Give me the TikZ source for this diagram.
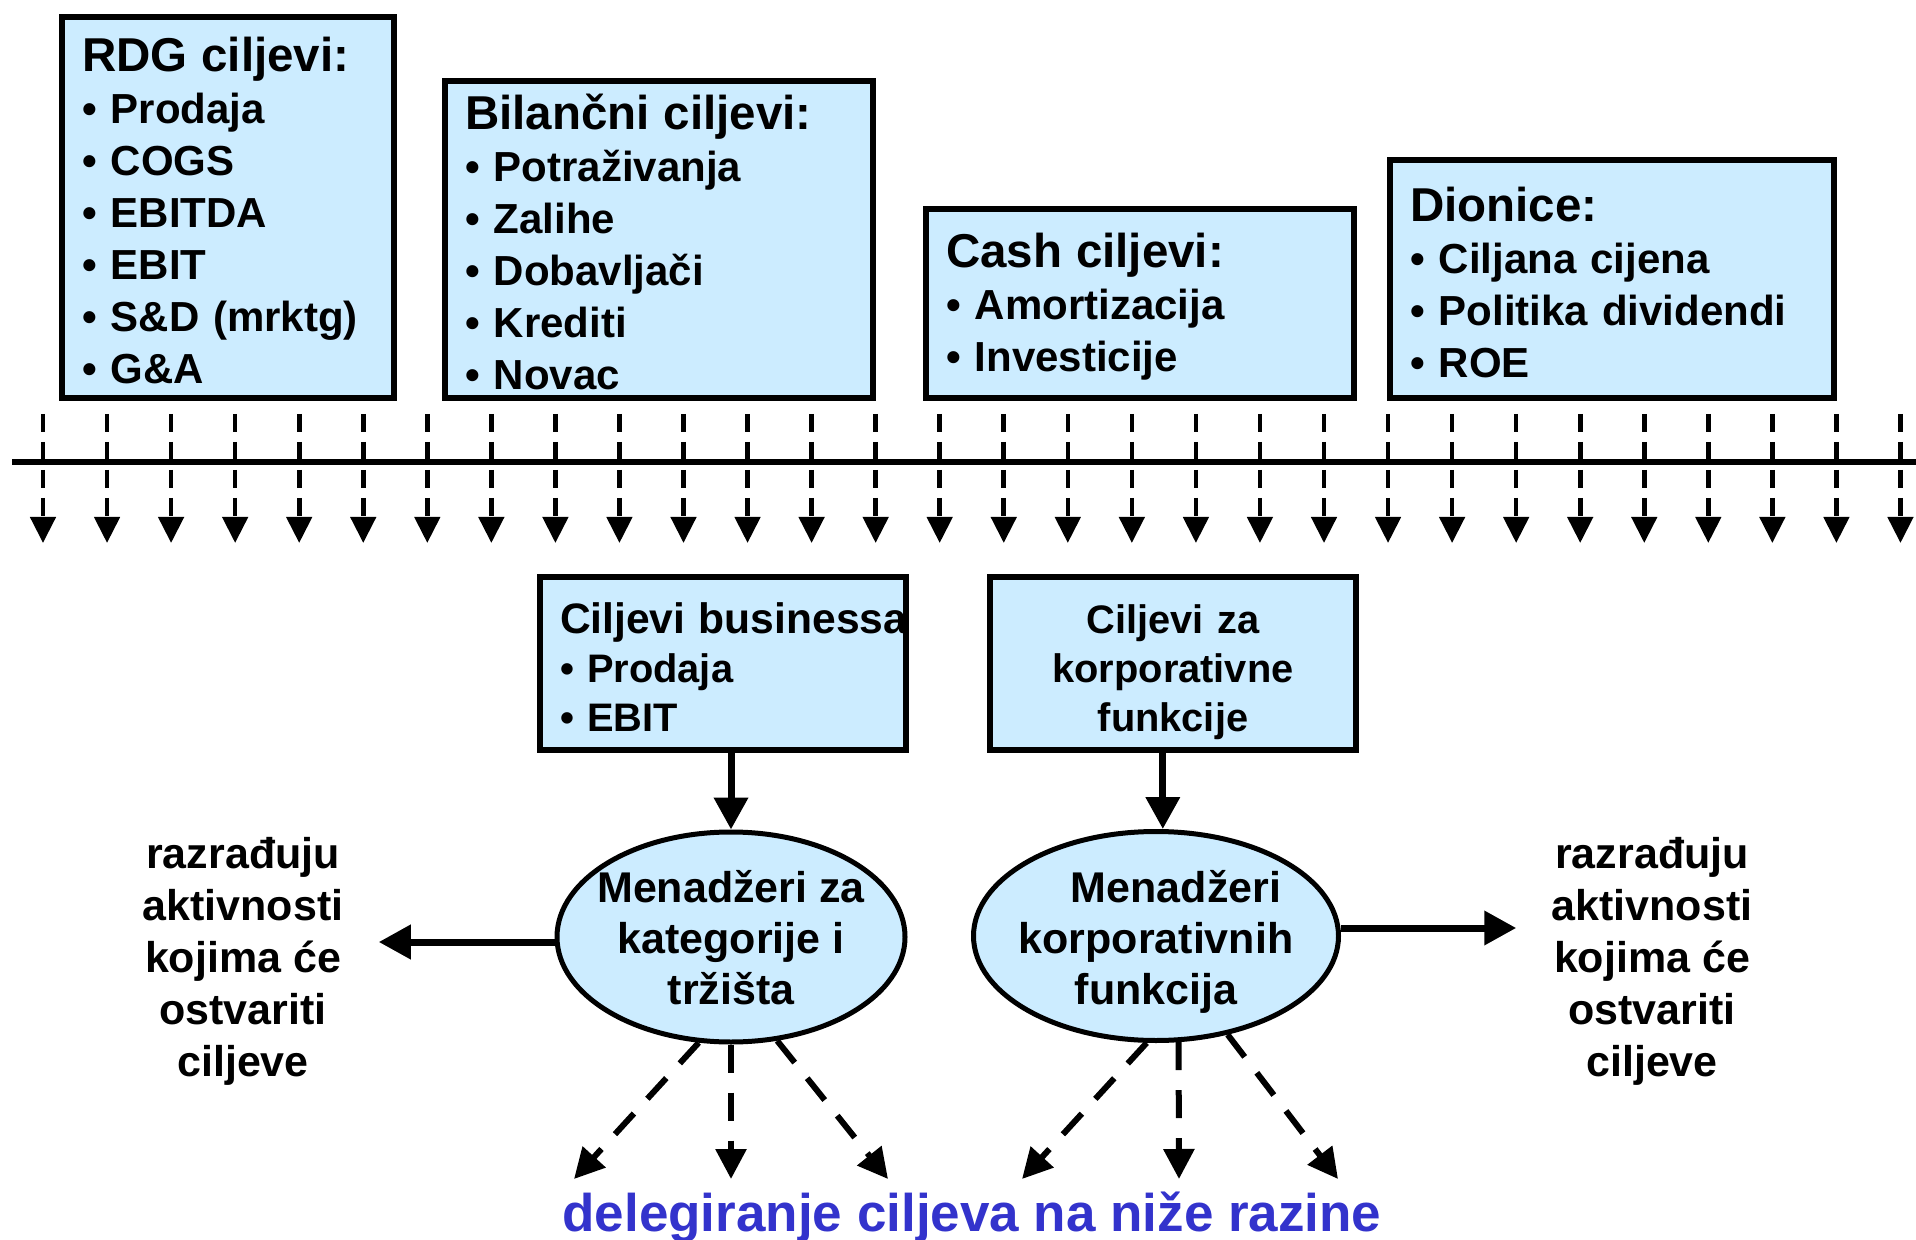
\documentclass[tikz,border=0pt]{standalone}
\usepackage{fontspec}
\setmainfont{Liberation Sans}
\usetikzlibrary{arrows.meta,positioning,shapes.geometric}
\definecolor{goalfill}{RGB}{204,236,255}
\definecolor{delegblue}{RGB}{51,51,204}
\newcommand{\goaltitle}[1]{{\fontsize{23.75pt}{26pt}\selectfont\rule{0pt}{20.5pt}#1}}

\begin{document}
\begin{tikzpicture}[
    x=0.5pt, y=-0.5pt,
    font=\bfseries\fontsize{21.5pt}{26pt}\selectfont,
    goalbox/.style={draw, line width=3pt, fill=goalfill, align=left, inner xsep=10pt, inner ysep=0pt, anchor=south west,
        font=\bfseries\fontsize{21pt}{26pt}\selectfont},
    lowbox/.style={draw, line width=3pt, fill=goalfill, inner xsep=10pt, inner ysep=0pt, anchor=north west,
        minimum width=183pt, minimum height=86.5pt, text width=163pt, font=\bfseries\fontsize{19.9pt}{24.5pt}\selectfont},
    manager/.style={draw, ellipse, line width=2.5pt, fill=goalfill, inner sep=0pt},
    mgrtext/.style={align=center, inner sep=0pt, font=\bfseries\fontsize{21.5pt}{25.5pt}\selectfont},
    sidetext/.style={align=center, inner sep=0pt},
    tickarrow/.style={line width=2.3pt, dash pattern=on 9pt off 5pt, -{Triangle[length=13pt, width=12.5pt]}},
    mainarrow/.style={line width=3.5pt, -{Triangle[length=16pt, width=16.5pt]}},
    delegarrow/.style={line width=3pt, dash pattern=on 14pt off 10pt, -{Triangle[length=15pt, width=15pt]}}
]
\useasboundingbox (0,0) rectangle (1916,1240);

% ciljevi iznad vremenske osi
\node[goalbox, minimum width=166pt, minimum height=190.5pt, text width=146pt] (rdg) at (59,401)
    {\goaltitle{RDG ciljevi:}\\• Prodaja\\• COGS\\• EBITDA\\• EBIT\\• S\&D (mrktg)\\• G\&A};
\node[goalbox, minimum width=214pt, minimum height=158.5pt, text width=194pt] (bilanca) at (442,401)
    {\goaltitle{Bilančni ciljevi:}\\• Potraživanja\\• Zalihe\\• Dobavljači\\• Krediti\\• Novac};
\node[goalbox, minimum width=214pt, minimum height=94.5pt, text width=194pt] (cash) at (923,401)
    {\goaltitle{Cash ciljevi:}\\• Amortizacija\\• Investicije};
\node[goalbox, minimum width=222pt, minimum height=119pt, text width=202pt] (dionice) at (1387,401)
    {\goaltitle{Dionice:}\\• Ciljana cijena\\• Politika dividendi\\• ROE};

% vremenska os
\draw[line width=3pt] (12,462) -- (1916,462);
\foreach \i in {0,...,29}
    \draw[tickarrow] ({43+64.05*\i},414) -- ({43+64.05*\i},543);

% ciljevi businessa i korporativnih funkcija
\node[lowbox, align=left] (busi) at (537,574)
    {{\fontsize{21.3pt}{24.5pt}\selectfont\rule{0pt}{18.9pt}\mbox{Ciljevi businessa}}\\• Prodaja\\• EBIT};
\node[lowbox, align=center] (korp) at (987,574) {\rule{0pt}{23.1pt}Ciljevi za\\korporativne\\funkcije};

% menadzeri
\node[manager, minimum width=174pt, minimum height=105pt] (mgrA) at (731,937) {};
\node[mgrtext] (mgrAtext) at ([yshift=-0.5pt]mgrA.center) {Menadžeri za\\kategorije i\\tržišta};
\node[manager, minimum width=182.5pt, minimum height=104.5pt] (mgrB) at (1156,936) {};
\node[mgrtext] (mgrBtext) at ([yshift=-2.75pt]mgrB.center) {\hspace*{20pt}Menadžeri\\korporativnih\\funkcija};

\coordinate (inB) at ([xshift=3.4pt]mgrB.north);
\draw[mainarrow] (busi.south -| mgrA.north) -- (mgrA.north);
\draw[mainarrow] (korp.south -| inB) -- (inB);

% aktivnosti
\node[sidetext] (actL) at (243,961.5) {razrađuju\\aktivnosti\\kojima će\\ostvariti\\ciljeve};
\node[sidetext] (actR) at (1652,961.5) {razrađuju\\aktivnosti\\kojima će\\ostvariti\\ciljeve};
\coordinate (outL) at ([yshift=-2.5pt]mgrA.west);
\coordinate (outR) at ([yshift=4pt]mgrB.east);
\draw[mainarrow, shorten >=17.5pt] (outL) -- (outL -| actL.east);
\draw[mainarrow, shorten >=17.5pt] (outR) -- (outR -| actR.west);

% delegiranje
\node[font=\bfseries\fontsize{26.5pt}{30pt}\selectfont, text=delegblue, anchor=base] (deleg) at (972,1231)
    {delegiranje ciljeva na niže razine};
\foreach \ang/\dx [count=\i] in {253/-157, 270/0, 294/157} {
    \coordinate (lowA\i) at ([shift={(\dx,242)}]mgrA.center);
    \draw[delegarrow] (mgrA.\ang) -- (lowA\i);
}
\foreach \ang/\dx [count=\i] in {265/-134, 282/23, 306/182} {
    \coordinate (lowB\i) at ([shift={(\dx,243)}]mgrB.center);
    \draw[delegarrow] (mgrB.\ang) -- (lowB\i);
}
\end{tikzpicture}
\end{document}
